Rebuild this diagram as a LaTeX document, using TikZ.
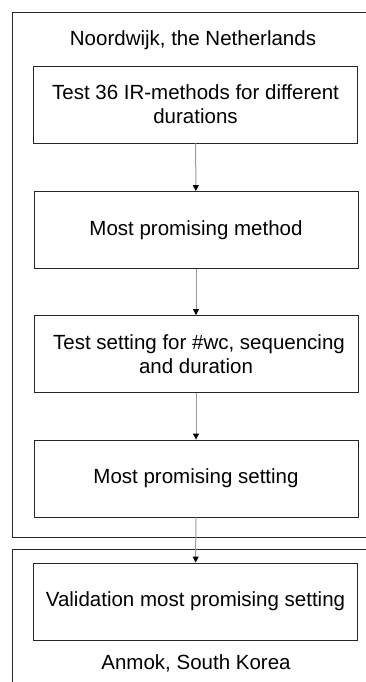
\documentclass[tikz,border=0pt]{standalone}
\usepackage{fontspec}
\setmainfont{Liberation Sans}
\usetikzlibrary{arrows.meta}
\begin{document}
\begin{tikzpicture}[x=1pt,y=-1pt,
  stepbox/.style={draw=black!85,line width=0.9pt,minimum width=324pt,minimum height=77pt,align=center,font=\fontsize{20.5}{24}\selectfont,inner sep=0pt},
  lbl/.style={font=\fontsize{20.5}{24}\selectfont,inner sep=0pt},
  conn/.style={draw=black!40,line width=1pt,-{Triangle[length=6pt,width=6pt,fill=black,color=black]}}]
\useasboundingbox (0,0) rectangle (366,682);
\fill[white] (0,0) rectangle (366,682);
% containers
\draw[black!85,line width=0.9pt] (367,12) -- (12,12) -- (12,537) -- (367,537);
\draw[black!85,line width=0.9pt] (367,549) -- (12,549) -- (12,683);
\node[lbl] (t1) at (193,40) {Noordwijk, the Netherlands};
\node[lbl] (t2) at (196,663) {Anmok, South Korea};
\node[stepbox] (b1) at (195.5,104.5) {Test 36 IR-methods for different\\durations};
\node[stepbox] (b2) at (196,230) {Most promising method};
\node[stepbox] (b3) at (196,354) {\hspace*{6pt}Test setting for \#wc, sequencing\\and duration};
\node[stepbox] (b4) at (196,478.5) {Most promising setting};
\node[stepbox] (b5) at (195.5,601.5) {Validation most promising setting};
\draw[conn] (b1) -- (b2);
\draw[conn] (b2) -- (b3);
\draw[conn] (b3) -- (b4);
\draw[conn] (b4) -- (b5);
\end{tikzpicture}
\end{document}
